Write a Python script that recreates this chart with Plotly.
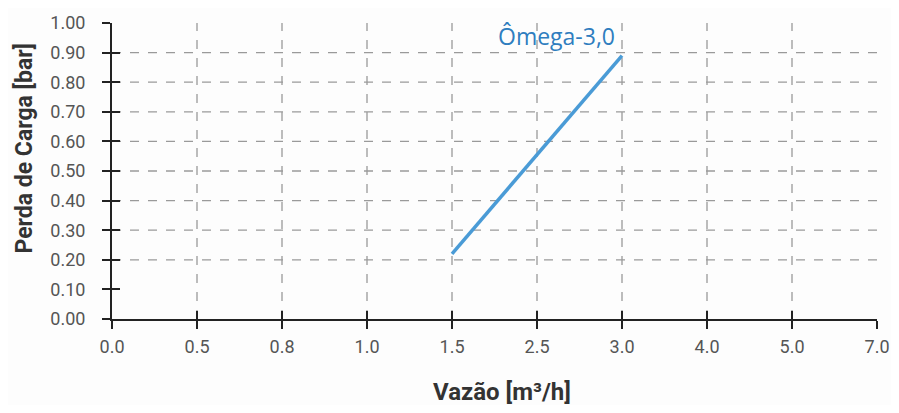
import plotly.graph_objects as go

# Data
categories = ["0.0", "0.5", "0.8", "1.0", "1.5", "2.5", "3.0", "4.0", "5.0", "7.0"]
series_x = ["1.5", "3.0"]
series_y = [0.22, 0.89]
series_name = "Ômega-3,0"
y_ticks = [0.0, 0.1, 0.2, 0.3, 0.4, 0.5, 0.6, 0.7, 0.8, 0.9, 1.0]
y_ticklabels = [f"{v:.2f}" for v in y_ticks]
h_grid = [0.2, 0.3, 0.4, 0.5, 0.6, 0.7, 0.8, 0.9]
v_grid = categories[1:-1]

line_color = "#4a9bd6"
label_color = "#2f7dbf"
tick_font = dict(family="Roboto, Arial, sans-serif", size=18, color="#555555")
grid_line = dict(color="#9a9a9a", width=1.3, dash="dash")

fig = go.Figure()
fig.add_trace(go.Scatter(x=series_x, y=series_y, mode="lines",
                         line=dict(color=line_color, width=3.5),
                         showlegend=False, hoverinfo="skip"))
# invisible trace for overlay axes (inner half of crossing ticks)
fig.add_trace(go.Scatter(x=[categories[0]], y=[0], xaxis="x2", yaxis="y2",
                         mode="markers", marker=dict(opacity=0),
                         showlegend=False, hoverinfo="skip"))

fig.add_annotation(x=categories.index(series_x[-1]), y=series_y[-1], text=series_name,
                   xanchor="right", yanchor="bottom", showarrow=False,
                   xshift=-5, yshift=2,
                   font=dict(family="Open Sans, Noto Sans, sans-serif", size=23, color=label_color))

# dashed grid
for g in h_grid:
    fig.add_shape(type="line", xref="paper", x0=0, x1=1, yref="y", y0=g, y1=g,
                  line=grid_line, layer="below")
for c in v_grid:
    i = categories.index(c)
    fig.add_shape(type="line", xref="x", x0=i, x1=i, yref="paper", y0=0, y1=1,
                  line=grid_line, layer="below")

axis_common = dict(showline=True, linecolor="#222222", linewidth=2,
                   ticks="outside", ticklen=8, tickwidth=2, tickcolor="#222222",
                   tickfont=tick_font, zeroline=False, showgrid=False, automargin=False,
                   ticklabeloverflow="allow")

fig.update_layout(
    width=883, height=397,
    margin=dict(l=104, r=14, t=15, b=86),
    paper_bgcolor="#fdfdfd", plot_bgcolor="#fdfdfd",
    xaxis=dict(type="category", categoryarray=categories, categoryorder="array",
               range=[0, len(categories) - 1],
               tickvals=categories, ticktext=categories, ticklabelstandoff=2, **axis_common),
    yaxis=dict(range=[0, 1.0], tickvals=y_ticks, ticktext=y_ticklabels,
               ticklabelstandoff=13, **axis_common),
    xaxis2=dict(type="category", categoryarray=categories, categoryorder="array",
                range=[0, len(categories) - 1], overlaying="x", anchor="y2", side="bottom",
                tickvals=categories, showticklabels=False, showgrid=False,
                ticks="inside", ticklen=8, tickwidth=2, tickcolor="#222222",
                showline=False, zeroline=False),
    yaxis2=dict(range=[0, 1.0], overlaying="y", anchor="x2", side="left", tickvals=y_ticks,
                showticklabels=False, showgrid=False, zeroline=False,
                ticks="inside", ticklen=8, tickwidth=2, tickcolor="#222222",
                showline=False),
)

fig.add_annotation(xref="paper", yref="paper", x=0.51, y=-0.2466, text="<b>Vazão [m³/h]</b>",
                   showarrow=False, xanchor="center", yanchor="middle",
                   font=dict(family="Roboto, Arial, sans-serif", size=24, color="#333333"))
fig.add_annotation(xref="paper", yref="paper", x=-0.115, y=0.576, text="<b>Perda de Carga [bar]</b>",
                   textangle=-90, showarrow=False, xanchor="center", yanchor="middle",
                   font=dict(family="Roboto, Arial, sans-serif", size=23, color="#333333"))

fig.write_html("out.html")
